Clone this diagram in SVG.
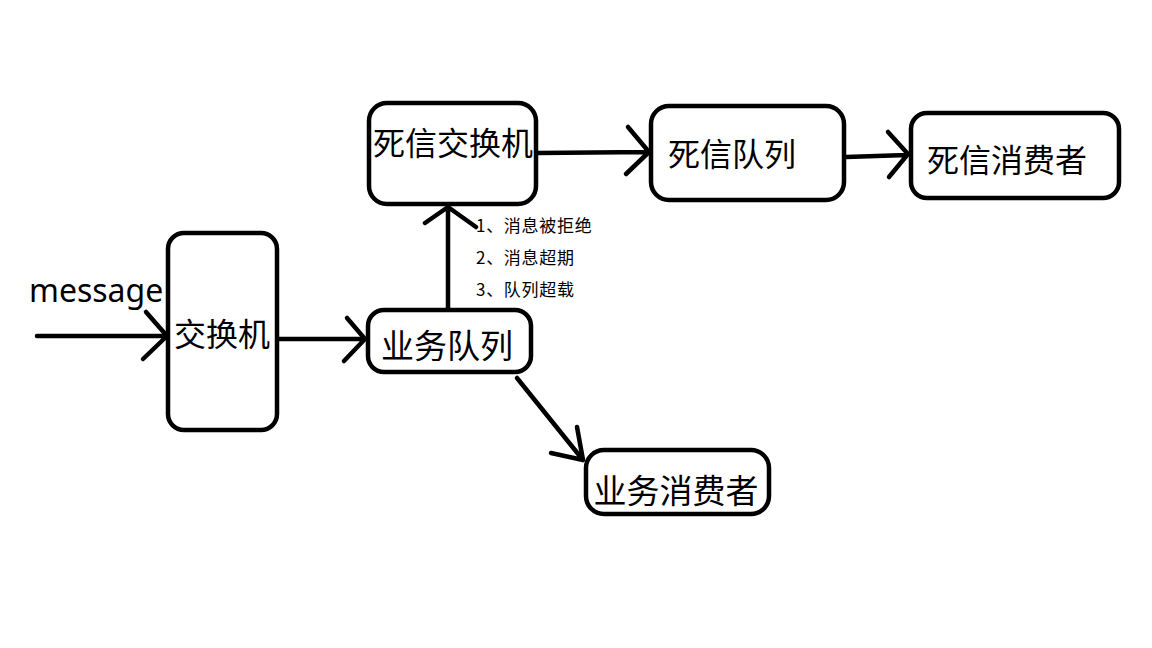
<svg xmlns="http://www.w3.org/2000/svg" width="1152" height="648" viewBox="0 0 1152 648">
<style>
.box{fill:#fff;stroke:#000;stroke-width:4.5}
.ln{fill:none;stroke:#000;stroke-width:4.5;stroke-linecap:round;stroke-linejoin:round}
.t{font-family:"Noto Sans CJK SC","Microsoft YaHei",sans-serif;font-size:32px;fill:#000;text-anchor:middle}
.s{font-family:"Noto Sans CJK SC","Microsoft YaHei",sans-serif;font-size:17px;letter-spacing:0.7px;fill:#000}
.m{font-family:"Noto Sans","Segoe UI",sans-serif;font-size:32px;fill:#000}
</style>
<rect width="1152" height="648" fill="#fff"/>
<g id="connectors">
<path class="ln" d="M37 336 L167 336 M146 312 L167 336 L143 359"/>
<path class="ln" d="M278 339 L365 339 M347 318 L365 339 L344 361"/>
<path class="ln" d="M448 309 L448 207 M425 223 L448 207 L476 227"/>
<path class="ln" d="M538 153 L648 152 M628 127 L649 152 L626 174"/>
<path class="ln" d="M846 157 L907 155 M888 132 L908 154 L889 177"/>
<path class="ln" d="M517 378 L583 460 M577 427 L583 460 L551 453"/>
</g>
<text class="m" x="29" y="302">message</text>
<g id="n-exchange">
<rect class="box" x="168" y="233" width="109" height="197" rx="16"/>
<text class="t" x="222" y="346">交换机</text>
</g>
<g id="n-bizqueue">
<rect class="box" x="368" y="310" width="163" height="62" rx="16"/>
<text class="t" x="447" y="358" style="font-size:33px">业务队列</text>
</g>
<g id="n-dlx">
<rect class="box" x="369" y="103" width="167" height="101" rx="18"/>
<text class="t" x="453" y="155">死信交换机</text>
</g>
<g id="n-dlq">
<rect class="box" x="651" y="106" width="193" height="94" rx="18"/>
<text class="t" x="732" y="166">死信队列</text>
</g>
<g id="n-dlconsumer">
<rect class="box" x="911" y="113" width="208" height="85" rx="16"/>
<text class="t" x="1007" y="172">死信消费者</text>
</g>
<g id="n-bizconsumer">
<rect class="box" x="586" y="450" width="183" height="64" rx="18"/>
<text class="t" x="676" y="503" style="font-size:33px">业务消费者</text>
</g>
<g id="reasons">
<text class="s" x="476" y="232">1、消息被拒绝</text>
<text class="s" x="476" y="264">2、消息超期</text>
<text class="s" x="476" y="296">3、队列超载</text>
</g>
</svg>
